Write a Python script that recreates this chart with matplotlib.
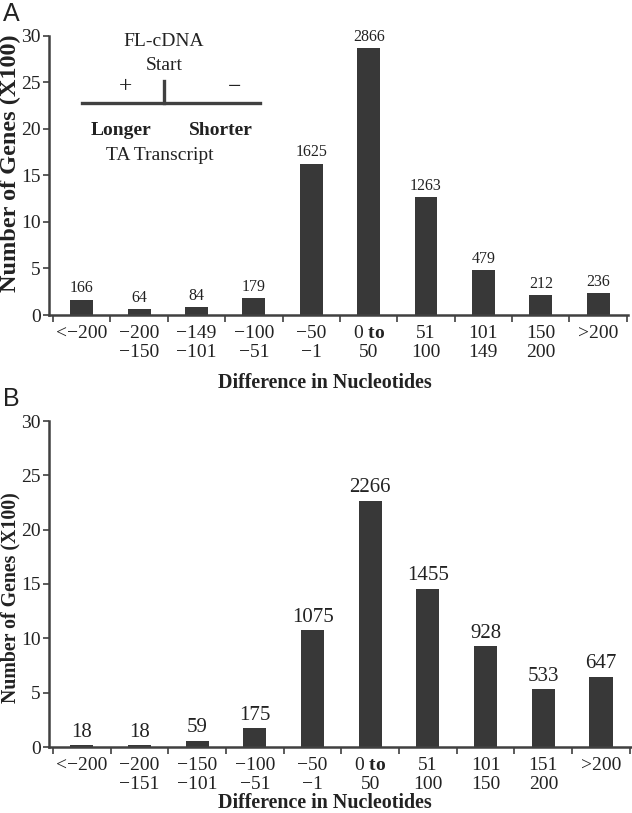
import matplotlib
matplotlib.use("Agg")
import matplotlib.pyplot as plt
from matplotlib.lines import Line2D
import numpy as np

plt.rcParams['font.family'] = ['Liberation Serif', 'DejaVu Serif']
plt.rcParams['mathtext.fontset'] = 'custom'
plt.rcParams['mathtext.rm'] = 'Liberation Serif'
plt.rcParams['mathtext.bf'] = 'Liberation Serif:bold'

labels_a = ["<\u2212200", "\u2212200\n\u2212150", "\u2212149\n\u2212101", "\u2212100\n\u221251",
            "\u221250\n\u22121", r"0 $\mathbf{to}$" + "\n50", "51\n100", "101\n149", "150\n200", ">200"]
counts_a = [166, 64, 84, 179, 1625, 2866, 1263, 479, 212, 236]

labels_b = ["<\u2212200", "\u2212200\n\u2212151", "\u2212150\n\u2212101", "\u2212100\n\u221251",
            "\u221250\n\u22121", r"0 $\mathbf{to}$" + "\n50", "51\n100", "101\n150", "151\n200", ">200"]
counts_b = [18, 18, 59, 175, 1075, 2266, 1455, 928, 533, 647]

W, H = 632, 813
fig = plt.figure(figsize=(W / 100, H / 100), dpi=100)

bar_color = "#383838"
axis_color = "#404040"
text_color = "#222222"


def ft(x, y, s, **kw):
    kw.setdefault("ha", "center")
    kw.setdefault("va", "center")
    fig.text(x / W, 1 - y / H, s, color=text_color, **kw)


def panel(rect, labels, counts, vfs):
    ax = fig.add_axes(rect)
    x = np.arange(len(counts))
    vals = np.array(counts) / 100.0
    ax.bar(x, vals, width=0.4, color=bar_color, zorder=2)
    for xi, c, v in zip(x, counts, vals):
        ax.annotate(str(c), (xi, v), xytext=(0, 2.5), textcoords="offset points",
                    ha="center", va="bottom", fontsize=vfs, color=text_color)
    ax.set_xlim(-0.57, 9.52)
    ax.set_ylim(0, 30)
    ax.set_yticks([0, 5, 10, 15, 20, 25, 30])
    ax.set_xticks(np.arange(-0.5, 10.0, 1.0))
    ax.set_xticklabels([])
    ax.set_xticks(x, minor=True)
    ax.set_xticklabels(labels, minor=True, fontsize=14, linespacing=1.2,
                       va="top", color=text_color)
    ax.tick_params(axis="x", which="major", direction="out", length=5, width=1.2, color=axis_color)
    ax.tick_params(axis="x", which="minor", length=0, pad=7)
    ax.tick_params(axis="y", direction="out", length=4, width=1.2, color=axis_color,
                   labelsize=14, labelcolor=text_color, pad=2)
    for s in ["top", "right"]:
        ax.spines[s].set_visible(False)
    for s in ["left", "bottom"]:
        ax.spines[s].set_linewidth(1.8)
        ax.spines[s].set_color(axis_color)
    return ax


axA = panel([49 / W, 1 - 315 / H, 579 / W, 279.5 / H], labels_a, counts_a, 11.5)
axB = panel([49 / W, 1 - 747 / H, 582 / W, 326 / H], labels_b, counts_b, 15)

# axis titles
ft(10, 163, "Number of Genes (X100)", fontsize=17.5, fontweight="bold", rotation=90)
ft(10, 598, "Number of Genes (X100)", fontsize=14.3, fontweight="bold", rotation=90)
ft(325, 383, "Difference in Nucleotides", fontsize=14.4, fontweight="bold")
ft(325, 803, "Difference in Nucleotides", fontsize=14.4, fontweight="bold")

# panel letters
ft(3, 14, "A", fontsize=18, family="Liberation Sans", ha="left")
ft(3, 399, "B", fontsize=18, family="Liberation Sans", ha="left")

# inset schematic in panel A
ft(164, 42, "FL-cDNA", fontsize=14)
ft(164, 65, "Start", fontsize=14)
ft(125, 87, "+", fontsize=17)
ft(235, 88, "\u2212", fontsize=17)
ft(121, 130, "Longer", fontsize=14, fontweight="bold")
ft(221, 130, "Shorter", fontsize=14, fontweight="bold")
ft(160, 155, "TA Transcript", fontsize=14)
fig.add_artist(Line2D([82 / W, 260 / W], [1 - 103 / H, 1 - 103 / H], lw=2.4, color=axis_color))
fig.add_artist(Line2D([164 / W, 164 / W], [1 - 81 / H, 1 - 103 / H], lw=2.4, color=axis_color))

fig.savefig("out.png", dpi=100)
